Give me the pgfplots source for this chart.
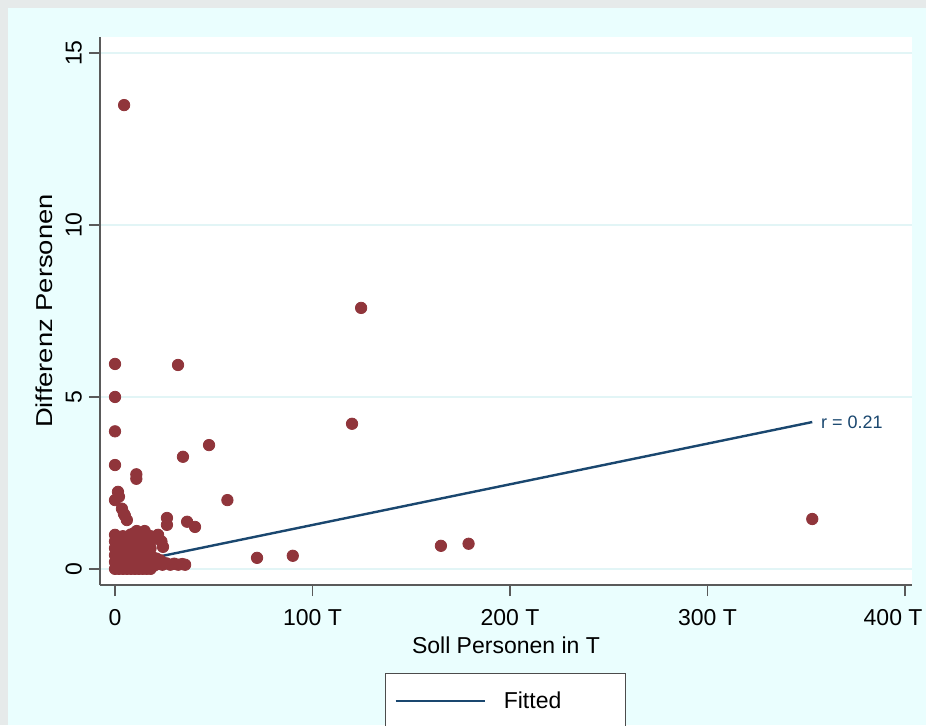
\documentclass[border=0pt]{standalone}
\usepackage{fontspec}
\setmainfont{Liberation Sans}
\usepackage{graphicx}
\usepackage{pgfplots}
\pgfplotsset{compat=1.18}
\definecolor{stmaroon}{HTML}{90353B}
\definecolor{stnavy}{HTML}{1A476F}
\definecolor{bgcyan}{HTML}{EAFEFE}
\definecolor{bggray}{HTML}{E6EAEA}
\definecolor{gridc}{HTML}{E2F5F6}
\definecolor{axc}{HTML}{5A5A5A}
\begin{document}
\begin{tikzpicture}
\clip (-50pt,-70pt) rectangle (413pt,292.5pt);
\fill[bggray] (-50pt,-70pt) rectangle (413pt,292.5pt);
\fill[bgcyan] (-46pt,-70pt) rectangle (413pt,288.5pt);
\begin{axis}[
  at={(0pt,0pt)}, anchor=south west,
  scale only axis, width=406pt, height=274pt,
  xmin=-7.6, xmax=403.5, ymin=-0.47, ymax=15.47,
  axis background/.style={fill=white},
  axis x line*=bottom, axis y line*=left,
  axis line style={axc, line width=0.7pt},
  tick align=outside,
  major tick length=5.5pt,
  tick style={axc, line width=0.7pt},
  xtick={0,100,200,300},
  xticklabels={0,100 T,200 T,300 T},
  extra x ticks={400},
  extra x tick labels={400 T},
  extra x tick style={xticklabel style={xshift=-6pt}},
  ytick={0,5,10,15},
  /pgf/number format/assume math mode=true,
  tick label style={font=\fontsize{11.5}{13}\selectfont, black},
  xticklabel style={yshift=-3pt},
  yticklabel style={rotate=90, anchor=south},
  ymajorgrids,
  grid style={gridc, line width=1pt},
  xlabel={Soll Personen in T},
  ylabel={\scalebox{1.19}[1]{Differenz Personen}},
  label style={font=\fontsize{11.5}{13}\selectfont},
  xlabel style={at={(axis description cs:0.5,-0.1095)}, anchor=center},
  ylabel style={at={(axis description cs:-0.0685,0.5)}, anchor=center},
  clip=false,
  legend style={at={(0.351,-0.1606)}, anchor=north west, draw=black!70, fill=white,
    inner xsep=4.5pt, inner ysep=7pt, font=\fontsize{11.5}{13}\selectfont,
    /tikz/every odd column/.append style={column sep=7pt}},
  legend image code/.code={\draw[#1] (0pt,0pt) -- (44.5pt,0pt);},
]
\addplot[stnavy, line width=1.2pt] coordinates {(0,0.093) (353,4.27)}
  node[pos=1, anchor=west, font=\fontsize{9}{11}\selectfont, text=stnavy, xshift=0.5pt] {r = 0.21};
\addlegendentry{Fitted\hspace*{25.5pt}}
\addplot[only marks, mark=*, mark size=2.85pt, color=stmaroon, forget plot] coordinates {
(0,0) (2,0) (4,0) (6,0) (8,0) (10,0) (12,0) (14,0) (16,0) (18,0)
(0,0.2) (2,0.2) (4,0.2) (6,0.2) (8,0.2) (10,0.2) (12,0.2) (14,0.2) (16,0.2) (18,0.2)
(0,0.4) (2,0.4) (4,0.4) (6,0.4) (8,0.4) (10,0.4) (12,0.4) (14,0.4) (16,0.4) (18,0.4)
(0,0.6) (2,0.6) (4,0.6) (6,0.6) (8,0.6) (10,0.6) (12,0.6) (14,0.6) (16,0.6) (18,0.6)
(0,0.8) (2,0.8) (4,0.8) (6,0.8) (8,0.8) (10,0.8) (12,0.8) (14,0.8) (16,0.8) (18,0.8)
(0,0.99) (4,0.95) (8,1.0) (10,1.05) (12,1.0) (14,1.05) (16,1.0) (18,0.95) (11,1.1) (15,1.1)
(21.8,0.99) (24.3,0.64) (23.5,0.8)
(20,0.1) (22,0.15) (24,0.12) (26,0.16) (28,0.12) (30,0.15) (32,0.12) (34,0.14) (35.5,0.12) (21,0.3) (23,0.25)
(4.6,13.49) (124.6,7.59) (0,5.96) (31.9,5.93) (0,5.0) (0,4.0) (120,4.22)
(47.6,3.6) (34.4,3.26) (0,3.02) (10.8,2.75) (10.8,2.62) (56.9,2.0) (0,2.0)
(1.5,2.24) (2,2.1) (3.5,1.75) (4.5,1.6) (5,1.55) (6,1.42)
(26.3,1.48) (26.3,1.28) (36.5,1.37) (40.5,1.22)
(71.9,0.32) (90,0.38) (165,0.67) (179,0.73) (353,1.45)
};
\end{axis}
\end{tikzpicture}
\end{document}
